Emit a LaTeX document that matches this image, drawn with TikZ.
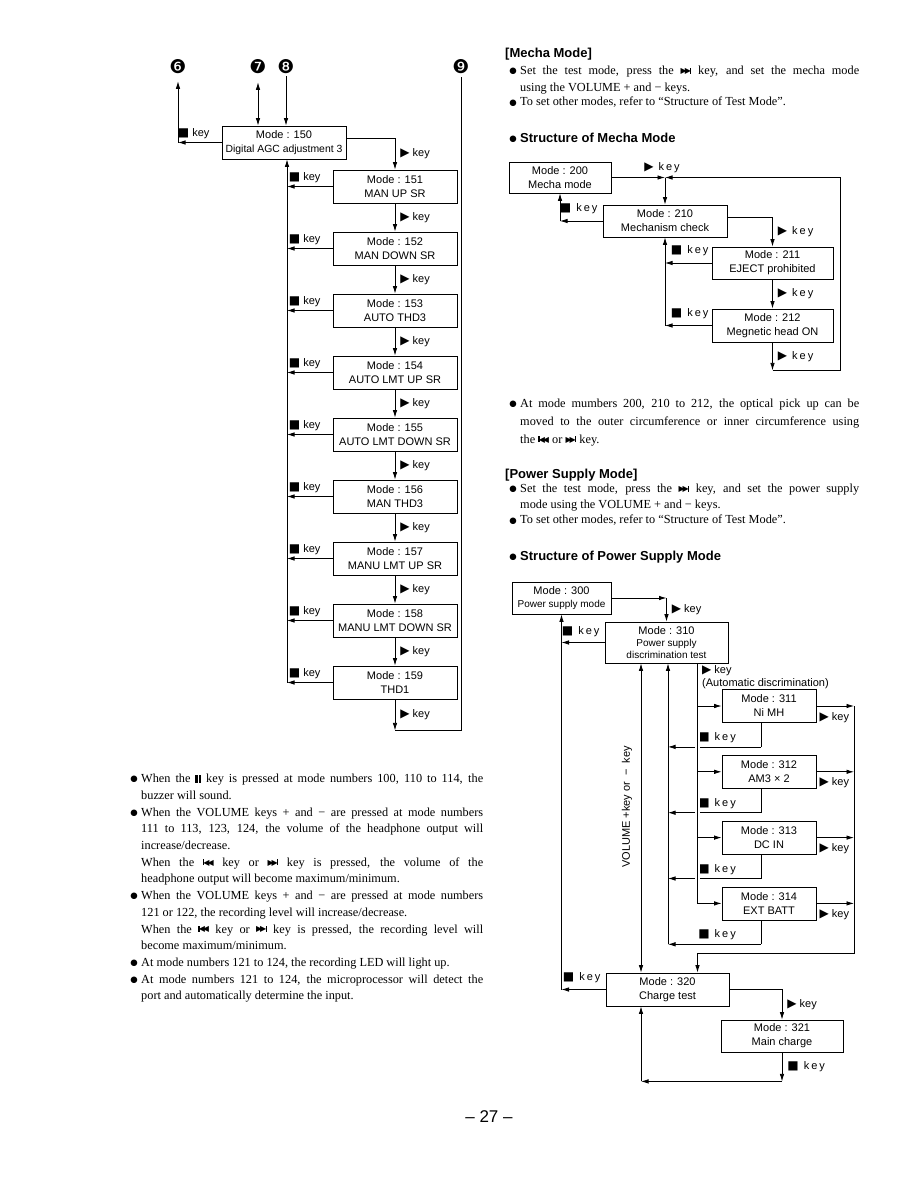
\documentclass[tikz,border=0pt]{standalone}
\usepackage{fontspec}
\setmainfont{Liberation Serif}
\setsansfont{Liberation Sans}
\newfontfamily\symfont{DejaVu Sans}
\newfontfamily\spacedfont[LetterSpace=18]{Liberation Sans}
\usetikzlibrary{arrows.meta,positioning}

\newcommand{\stopkey}{{\symfont\fontsize{12}{12}\selectfont ■}}
\newcommand{\playkey}{{\symfont\fontsize{12}{12}\selectfont ▶}}
\newcommand{\nextkey}{\mbox{\raisebox{0.2ex}{\symfont\fontsize{8}{8}\selectfont ▶\kern-2pt▶}\kern-0.8pt\rule[0.2ex]{1.3pt}{6pt}}}
\newcommand{\prevkey}{\mbox{\rule[0.2ex]{1.3pt}{6pt}\kern-0.8pt\raisebox{0.2ex}{\symfont\fontsize{8}{8}\selectfont ◀\kern-2pt◀}}}
\newcommand{\pausekey}{\mbox{\rule{2.2pt}{8pt}\kern1.4pt\rule{2.2pt}{8pt}}}
\newcommand{\bul}{\leavevmode\llap{\raisebox{0.15ex}{\symfont\fontsize{8.5}{8.5}\selectfont ●}\hspace{3.5pt}}}

\begin{document}
\begin{tikzpicture}[x=1pt, y=-1pt,
  box/.style={draw, line width=0.8pt, align=center, font=\fontsize{11}{14}\selectfont\sffamily, inner sep=1pt, minimum height=33pt},
  arr/.style={-{Latex[length=7.5pt,width=4.5pt]}, line width=0.8pt},
  darr/.style={{Latex[length=7.5pt,width=4.5pt]}-{Latex[length=7.5pt,width=4.5pt]}, line width=0.8pt},
  gap/.style={line width=0.8pt, preaction={draw=white, line width=5pt, shorten <=2pt, shorten >=2pt}},
  keyl/.style={font=\fontsize{11}{13}\selectfont\sffamily, inner sep=1pt},
  skeyl/.style={font=\fontsize{11}{13}\selectfont\spacedfont, inner sep=1pt},
  num/.style={font=\fontsize{19}{19}\selectfont\symfont, inner sep=0pt},
  head/.style={font=\fontsize{13}{15}\selectfont\sffamily\bfseries, inner sep=0pt, anchor=west},
  para/.style={font=\fontsize{12.3}{16.7}\selectfont, text width=342pt, align=justify, inner sep=0pt, anchor=north west},
  rpara/.style={para, text width=339pt}
]
\useasboundingbox[fill=white] (0,0) rectangle (918,1188);

% ---- left chart, modes 150 to 159
\node[num] (n6) at (178,67) {❻};
\node[num] (n7) at (258,67) {❼};
\node[num] (n8) at (286,67) {❽};
\node[num] (n9) at (461,67) {❾};
\coordinate (c6) at (178,0);
\coordinate (lbus) at (287,0);

\node[box, minimum width=124pt] (m150) at (284,142.5) {Mode : 150\\\fontsize{10.4}{14}\selectfont Digital AGC adjustment 3};
\node[box, minimum width=124pt] (m151) at (395,186.5) {Mode : 151\\MAN UP SR};
\node[box, minimum width=124pt, below=28.2pt of m151] (m152) {Mode : 152\\MAN DOWN SR};
\node[box, minimum width=124pt, below=28.2pt of m152] (m153) {Mode : 153\\AUTO THD3};
\node[box, minimum width=124pt, below=28.2pt of m153] (m154) {Mode : 154\\AUTO LMT UP SR};
\node[box, minimum width=124pt, below=28.2pt of m154] (m155) {Mode : 155\\AUTO LMT DOWN SR};
\node[box, minimum width=124pt, below=28.2pt of m155] (m156) {Mode : 156\\MAN THD3};
\node[box, minimum width=124pt, below=28.2pt of m156] (m157) {Mode : 157\\MANU LMT UP SR};
\node[box, minimum width=124pt, below=28.2pt of m157] (m158) {Mode : 158\\MANU LMT DOWN SR};
\node[box, minimum width=124pt, below=28.2pt of m158] (m159) {Mode : 159\\THD1};

\draw[darr] ([yshift=-8pt]n7.south) -- (n7.south |- m150.north);
\draw[arr] ([yshift=-2pt]n8.south) -- (n8.south |- m150.north);
\draw[arr] (m150.west) -- (m150.west -| c6);
\draw[arr] (m150.west -| c6) -- ([yshift=-7pt]n6.south);
\node[keyl, anchor=south east] at ([xshift=-11pt,yshift=3pt]m150.west) {\stopkey\ key};

\draw[arr] ([yshift=4pt]m150.east) -| (m151.north) node[keyl, pos=0.75, right=4pt] {\playkey\ key};
\draw[arr] (m151) -- (m152) node[keyl, midway, right=4pt] {\playkey\ key};
\draw[arr] (m152) -- (m153) node[keyl, midway, right=4pt] {\playkey\ key};
\draw[arr] (m153) -- (m154) node[keyl, midway, right=4pt] {\playkey\ key};
\draw[arr] (m154) -- (m155) node[keyl, midway, right=4pt] {\playkey\ key};
\draw[arr] (m155) -- (m156) node[keyl, midway, right=4pt] {\playkey\ key};
\draw[arr] (m156) -- (m157) node[keyl, midway, right=4pt] {\playkey\ key};
\draw[arr] (m157) -- (m158) node[keyl, midway, right=4pt] {\playkey\ key};
\draw[arr] (m158) -- (m159) node[keyl, midway, right=4pt] {\playkey\ key};
\draw[arr] (m159.south) -- ++(0,31) coordinate (c159) node[keyl, midway, right=4pt] {\playkey\ key};
\draw[line width=0.8pt] (c159) -| ([yshift=-3pt]n9.south);

% stop key returns
\draw[arr] (m151.west) -- (m151.west -| lbus);
\draw[arr] (m152.west) -- (m152.west -| lbus);
\draw[arr] (m153.west) -- (m153.west -| lbus);
\draw[arr] (m154.west) -- (m154.west -| lbus);
\draw[arr] (m155.west) -- (m155.west -| lbus);
\draw[arr] (m156.west) -- (m156.west -| lbus);
\draw[arr] (m157.west) -- (m157.west -| lbus);
\draw[arr] (m158.west) -- (m158.west -| lbus);
\draw[arr] (m159.west) -- (m159.west -| lbus);
\draw[arr] (m159.west -| lbus) -- (m150.south -| lbus);
\node[keyl, anchor=south east] at ([xshift=-11pt,yshift=3pt]m151.west) {\stopkey\ key};
\node[keyl, anchor=south east] at ([xshift=-11pt,yshift=3pt]m152.west) {\stopkey\ key};
\node[keyl, anchor=south east] at ([xshift=-11pt,yshift=3pt]m153.west) {\stopkey\ key};
\node[keyl, anchor=south east] at ([xshift=-11pt,yshift=3pt]m154.west) {\stopkey\ key};
\node[keyl, anchor=south east] at ([xshift=-11pt,yshift=3pt]m155.west) {\stopkey\ key};
\node[keyl, anchor=south east] at ([xshift=-11pt,yshift=3pt]m156.west) {\stopkey\ key};
\node[keyl, anchor=south east] at ([xshift=-11pt,yshift=3pt]m157.west) {\stopkey\ key};
\node[keyl, anchor=south east] at ([xshift=-11pt,yshift=3pt]m158.west) {\stopkey\ key};
\node[keyl, anchor=south east] at ([xshift=-11pt,yshift=3pt]m159.west) {\stopkey\ key};

% notes under the left chart
\node[para] (notes) at (141,774) {%
\bul When the \pausekey\ key is pressed at mode numbers 100, 110 to 114, the\linebreak buzzer will sound.\par
\bul When the VOLUME keys + and − are pressed at mode numbers\linebreak 111 to 113, 123, 124, the volume of the headphone output will\linebreak increase/decrease.\par
When the \prevkey\ key or \nextkey\ key is pressed, the volume of the\linebreak headphone output will become maximum/minimum.\par
\bul When the VOLUME keys + and − are pressed at mode numbers\linebreak 121 or 122, the recording level will increase/decrease.\par
When the \prevkey\ key or \nextkey\ key is pressed, the recording level will\linebreak become maximum/minimum.\par
\bul At mode numbers 121 to 124, the recording LED will light up.\par
\bul At mode numbers 121 to 124, the microprocessor will detect the\linebreak port and automatically determine the input.};

% ---- mecha mode
\node[head] (hmecha) at (505,54) {[Mecha Mode]};
\node[rpara] (tm1) at (520,66) {\bul Set the test mode, press the \nextkey\ key, and set the mecha mode\linebreak using the VOLUME + and − keys.};
\node[rpara] (tm2) at (520,97) {\bul To set other modes, refer to “Structure of Test Mode”.};
\node[head] (hsm) at (520,138) {\llap{\raisebox{0.1ex}{\symfont\fontsize{8.5}{8.5}\selectfont ●}\hspace{3.5pt}}Structure of Mecha Mode};

\node[box, minimum width=102pt, minimum height=31pt] (m200) at (560,177.5) {Mode : 200\\Mecha mode};
\node[box, minimum width=124pt, minimum height=32pt] (m210) at (665,221) {Mode : 210\\Mechanism check};
\node[box, minimum width=121pt, minimum height=32pt] (m211) at (772.5,263) {Mode : 211\\EJECT prohibited};
\node[box, minimum width=121pt, minimum height=33pt] (m212) at (772.5,325.5) {Mode : 212\\Megnetic head ON};
\coordinate (mtop) at (m210.north |- m200.east);
\coordinate (mright) at (840,177.5);

\draw[arr] (m200.east) -- (mtop);
\draw[arr] (mtop) -- (m210.north);
\node[skeyl, anchor=south] at ([xshift=-3pt,yshift=4pt]mtop) {\playkey\ key};
\draw[arr] (m210.west) -- (m210.west -| m200.south);
\draw[arr] (m210.west -| m200.south) -- (m200.south);
\node[skeyl, anchor=south east] at ([xshift=-4pt,yshift=6pt]m210.west) {\stopkey\ key};
\draw[arr] ([yshift=4pt]m210.east) -| (m211.north) node[skeyl, pos=0.75, right=4pt] {\playkey\ key};
\draw[arr] (m211) -- (m212) node[skeyl, midway, right=4pt] {\playkey\ key};
\draw[arr] (m211.west) -- (m211.west -| m210.south);
\draw[arr] (m212.west) -- (m212.west -| m210.south);
\draw[arr] (m212.west -| m210.south) -- (m210.south);
\node[skeyl, anchor=south east] at ([xshift=-2pt,yshift=6pt]m211.west) {\stopkey\ key};
\node[skeyl, anchor=south east] at ([xshift=-2pt,yshift=6pt]m212.west) {\stopkey\ key};
\draw[arr] (m212.south) -- ++(0,28) coordinate (mbot) node[skeyl, midway, right=4pt] {\playkey\ key};
\draw[arr] (mbot) -| (mright) -- (mtop);

\node[rpara, font=\fontsize{12.3}{17.8}\selectfont] (tm3) at (520,399) {\bul At mode mumbers 200, 210 to 212, the optical pick up can be\linebreak moved to the outer circumference or inner circumference using\linebreak the \prevkey\ or \nextkey\ key.};

% ---- power supply mode
\node[head] (hpower) at (505,475) {[Power Supply Mode]};
\node[rpara, font=\fontsize{12.3}{15.5}\selectfont] (tp1) at (520,484) {\bul Set the test mode, press the \nextkey\ key, and set the power supply\linebreak mode using the VOLUME + and − keys.};
\node[rpara] (tp2) at (520,515) {\bul To set other modes, refer to “Structure of Test Mode”.};
\node[head] (hsp) at (520,557) {\llap{\raisebox{0.1ex}{\symfont\fontsize{8.5}{8.5}\selectfont ●}\hspace{3.5pt}}Structure of Power Supply Mode};

\node[box, minimum width=99pt, minimum height=32pt] (p300) at (561.5,598) {Mode : 300\\[-1pt]\fontsize{10}{12}\selectfont Power supply mode};
\node[box, minimum width=123pt, minimum height=41pt] (p310) at (666.5,642.5) {Mode : 310\\[-2pt]\fontsize{10}{11.5}\selectfont Power supply\\[-2pt]\fontsize{10}{11.5}\selectfont discrimination test};
\node[box, minimum width=94pt] (p311) at (769,706) {Mode : 311\\Ni MH};
\node[box, minimum width=94pt, below=32pt of p311] (p312) {Mode : 312\\AM3 × 2};
\node[box, minimum width=94pt, below=32pt of p312] (p313) {Mode : 313\\DC IN};
\node[box, minimum width=94pt, below=32pt of p313] (p314) {Mode : 314\\EXT BATT};
\node[box, minimum width=123pt] (p320) at (667.5,989.5) {Mode : 320\\Charge test};
\node[box, minimum width=122pt, minimum height=32pt] (p321) at (782,1036) {Mode : 321\\Main charge};
\coordinate (vx) at (641,0);
\coordinate (psb) at (668,0);
\coordinate (fx) at (697,0);
\coordinate (prb) at (854,0);

\draw[arr] (p300.east) -- (p300.east -| p310.north);
\draw[arr] (p300.east -| p310.north) -- (p310.north) node[keyl, midway, right=4pt] {\playkey\ key};
\draw[arr] (p310.west) -- (p310.west -| p300.south);
\node[skeyl, anchor=south east] at ([xshift=-4pt,yshift=5pt]p310.west) {\stopkey\ key};
\draw[arr] (p320.west) -- (p320.west -| p300.south);
\draw[arr] (p320.west -| p300.south) -- (p300.south);
\node[skeyl, anchor=south east] at ([xshift=-4pt,yshift=6pt]p320.west) {\stopkey\ key};
\draw[darr] (p310.south -| vx) -- (p320.north -| vx);
\node[keyl, rotate=90] (vol) at (627,807) {VOLUME +key or~~−~~key};

% stop key returns of 311 to 314
\draw[line width=0.8pt] ([xshift=-8pt]p311.south) -- ++(0,24) coordinate (r311);
\draw[line width=0.8pt] ([xshift=-8pt]p312.south) -- ++(0,24) coordinate (r312);
\draw[line width=0.8pt] ([xshift=-8pt]p313.south) -- ++(0,24) coordinate (r313);
\draw[line width=0.8pt] ([xshift=-8pt]p314.south) -- ++(0,24) coordinate (r314);
\draw[arr] (r311) -- (r311 -| psb);
\draw[arr] (r312) -- (r312 -| psb);
\draw[arr] (r313) -- (r313 -| psb);
\draw[arr] (r314) -- (r314 -| psb);
\draw[arr] (r314 -| psb) -- (p310.south -| psb);
\node[skeyl, anchor=south east] at ([xshift=-24pt,yshift=3pt]r311) {\stopkey\ key};
\node[skeyl, anchor=south east] at ([xshift=-24pt,yshift=3pt]r312) {\stopkey\ key};
\node[skeyl, anchor=south east] at ([xshift=-24pt,yshift=3pt]r313) {\stopkey\ key};
\node[skeyl, anchor=south east] at ([xshift=-24pt,yshift=3pt]r314) {\stopkey\ key};

% play key feed to 311 to 314
\draw[gap] (p310.south -| fx) -- (p314.west -| fx);
\draw[arr] (p311.west -| fx) -- (p311.west);
\draw[arr] (p312.west -| fx) -- (p312.west);
\draw[arr] (p313.west -| fx) -- (p313.west);
\draw[arr] (p314.west -| fx) -- (p314.west);
\node[keyl, anchor=north west, align=left] at ([xshift=4pt,yshift=-1pt]p310.south -| fx) {\playkey\ key\\(Automatic discrimination)};

\draw[arr] (p311.east) -- (p311.east -| prb);
\draw[arr] (p312.east) -- (p312.east -| prb);
\draw[arr] (p313.east) -- (p313.east -| prb);
\draw[arr] (p314.east) -- (p314.east -| prb);
\node[keyl, anchor=north west] at ([xshift=2pt,yshift=-5pt]p311.east) {\playkey\ key};
\node[keyl, anchor=north west] at ([xshift=2pt,yshift=-5pt]p312.east) {\playkey\ key};
\node[keyl, anchor=north west] at ([xshift=2pt,yshift=-5pt]p313.east) {\playkey\ key};
\node[keyl, anchor=north west] at ([xshift=2pt,yshift=-5pt]p314.east) {\playkey\ key};
\draw[arr] (p311.east -| prb) |- ([xshift=30pt,yshift=19pt]p320.north) -- ([xshift=30pt]p320.north);

\draw[arr] (p320.east) -| (p321.north) node[keyl, pos=0.75, right=4pt] {\playkey\ key};
\draw[arr] (p321.south) -- ++(0,29) coordinate (pb) node[skeyl, midway, right=4pt] {\stopkey\ key};
\draw[arr] (pb) -- (pb -| vx);
\draw[arr] (pb -| vx) -- (p320.south -| vx);

\node[font=\fontsize{17}{17}\selectfont\sffamily, inner sep=0pt] (page) at (489,1117) {– 27 –};
\end{tikzpicture}
\end{document}
